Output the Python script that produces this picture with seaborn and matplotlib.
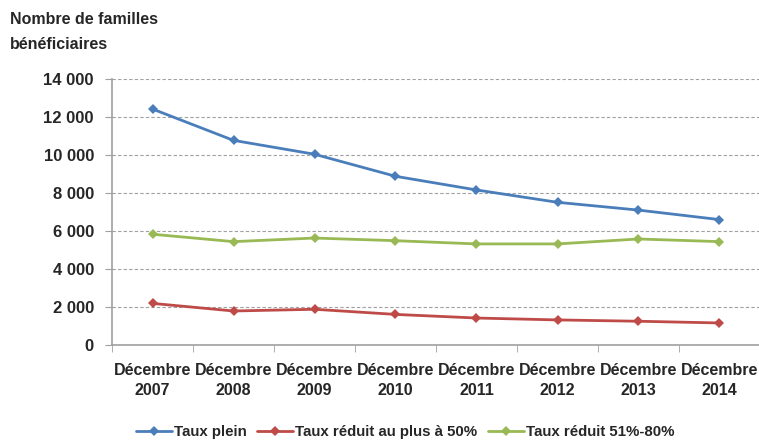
import pandas as pd
import matplotlib.pyplot as plt
import seaborn as sns
from matplotlib.ticker import FuncFormatter, FixedLocator

# data
periods = ["Décembre\n2007", "Décembre\n2008", "Décembre\n2009", "Décembre\n2010",
           "Décembre\n2011", "Décembre\n2012", "Décembre\n2013", "Décembre\n2014"]
taux_plein = [12420, 10770, 10040, 8880, 8160, 7510, 7100, 6600]
taux_50 = [2190, 1790, 1880, 1610, 1420, 1320, 1250, 1160]
taux_51_80 = [5830, 5440, 5630, 5490, 5320, 5320, 5580, 5440]
series_names = ["Taux plein", "Taux réduit au plus à 50%", "Taux réduit 51%-80%"]
colors = ["#4A7EBB", "#BE4B48", "#98B954"]

rows = []
for name, vals in zip(series_names, [taux_plein, taux_50, taux_51_80]):
    for i, v in enumerate(vals):
        rows.append({"pos": i, "value": v, "serie": name})
df = pd.DataFrame(rows)

sns.set_style("white")
plt.rcParams["font.family"] = ["Liberation Sans", "DejaVu Sans"]

fig = plt.figure(figsize=(7.59, 4.43), dpi=100)
ax = fig.add_axes([112 / 759, 1 - 345 / 443, 648 / 759, 266 / 443])

sns.lineplot(data=df, x="pos", y="value", hue="serie", style="serie",
             markers=["D", "D", "D"], dashes=False, palette=colors,
             linewidth=2.0, markersize=5.5, markeredgewidth=0, ax=ax, legend=True)

ax.set_xlim(-0.5, 7.5)
ax.set_ylim(0, 14000)
ax.set_yticks(range(0, 14001, 2000))
ax.yaxis.set_major_formatter(FuncFormatter(lambda v, p: f"{int(v):,}".replace(",", " ")))
ax.set_xticks(range(8))
ax.set_xticklabels(periods, fontweight="bold", fontsize=11.5, linespacing=1.45)
ax.xaxis.set_minor_locator(FixedLocator([i - 0.5 for i in range(9)]))
ax.tick_params(axis="x", which="major", length=0, pad=13)
ax.tick_params(axis="x", which="minor", length=5, color="#A0A0A0", direction="out", bottom=True)
ax.tick_params(axis="y", length=5, color="#A0A0A0", direction="out", left=True, pad=8)
for lab in ax.get_yticklabels():
    lab.set_fontweight("bold")
    lab.set_fontsize(12)

ax.grid(axis="y", linestyle=(0, (3, 2)), color="#A0A0A0", linewidth=0.8)
ax.grid(axis="x", visible=False)
for s in ["top", "right"]:
    ax.spines[s].set_visible(False)
ax.spines["left"].set_color("#A0A0A0")
ax.spines["bottom"].set_color("#A0A0A0")
ax.spines["left"].set_linewidth(1.2)
ax.spines["bottom"].set_linewidth(1.2)
ax.set_xlabel("")
ax.set_ylabel("")

fig.text(0.013, 0.972, "Nombre de familles\nbénéficiaires", ha="left", va="top",
         fontsize=11.5, fontweight="bold", linespacing=1.8)

handles, labels = ax.get_legend_handles_labels()
ax.get_legend().remove()
leg = fig.legend(handles, labels, loc="center", bbox_to_anchor=(0.534, 0.024), ncol=3,
                 frameon=False, prop={"weight": "bold", "size": 10.8},
                 handlelength=2.4, handletextpad=0.15, columnspacing=0.7)

fig.savefig("out.png", dpi=100)
